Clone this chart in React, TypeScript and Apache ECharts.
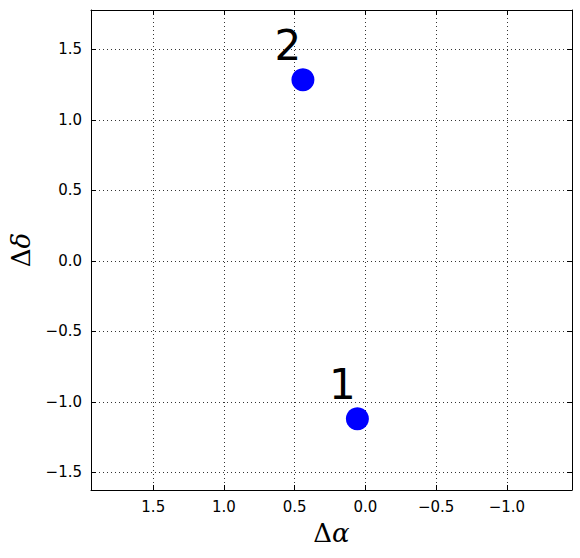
import React, { useEffect, useRef } from "react";
import * as echarts from "echarts";

const pointLabels = ["1", "2"];
const deltaAlpha = [0.057, 0.442];
const deltaDelta = [-1.12, 1.285];

const xRange = [-1.46, 1.94];
const yRange = [-1.625, 1.78];

const fmt = (v: number) => v.toFixed(1).replace("-", "\u2212");

export default function App() {
  const ref = useRef<HTMLDivElement>(null);
  useEffect(() => {
    document.body.style.margin = "0";
    document.body.style.overflow = "hidden";
    if (!ref.current) return;
    const chart = echarts.init(ref.current, null, { renderer: "svg" });
    const tickStyle = { show: true, inside: true, length: 5, lineStyle: { color: "#000", width: 1 } };
    const axisLine = { show: true, onZero: false, lineStyle: { color: "#000", width: 1 } };
    const labelStyle = {
      color: "#000",
      fontSize: 15,
      fontFamily: "DejaVu Sans",
      formatter: (v: number) => fmt(v),
      showMinLabel: false,
      showMaxLabel: false,
    };
    const nameRich = {
      a: { fontFamily: "DejaVu Serif", fontSize: 26, color: "#000" },
      b: { fontFamily: "DejaVu Serif", fontStyle: "italic", fontSize: 26, color: "#000" },
    };
    const data = pointLabels.map((n, i) => ({ name: n, value: [deltaAlpha[i], deltaDelta[i]] }));
    chart.setOption({
      animation: false,
      backgroundColor: "#fff",
      grid: { left: 91, right: 8, top: 10, bottom: 68, containLabel: false, outerBoundsMode: "none" },
      xAxis: [
        {
          type: "value",
          min: xRange[0],
          max: xRange[1],
          inverse: true,
          splitNumber: 6,
          axisLine,
          axisTick: tickStyle,
          axisLabel: { ...labelStyle, margin: 9 },
          splitLine: { show: true, lineStyle: { color: "#000", type: [1, 3], width: 0.8 } },
          name: "{a|Δ}{b|α}",
          nameLocation: "middle",
          nameGap: 30,
          nameTextStyle: { rich: nameRich },
        },
        {
          type: "value",
          position: "top",
          min: xRange[0],
          max: xRange[1],
          inverse: true,
          splitNumber: 6,
          axisLine,
          axisTick: tickStyle,
          axisLabel: { show: false },
          splitLine: { show: false },
        },
      ],
      yAxis: [
        {
          type: "value",
          min: yRange[0],
          max: yRange[1],
          splitNumber: 6,
          axisLine,
          axisTick: tickStyle,
          axisLabel: { ...labelStyle, margin: 9 },
          splitLine: { show: true, lineStyle: { color: "#000", type: [1, 3], width: 0.8 } },
          name: "{a|Δ}{b|δ}",
          nameLocation: "middle",
          nameGap: 57,
          nameTextStyle: { rich: nameRich },
        },
        {
          type: "value",
          position: "right",
          min: yRange[0],
          max: yRange[1],
          splitNumber: 6,
          axisLine,
          axisTick: tickStyle,
          axisLabel: { show: false },
          splitLine: { show: false },
        },
      ],
      series: [
        {
          type: "scatter",
          data,
          symbol: "circle",
          symbolSize: 23,
          itemStyle: { color: "#0000ff", opacity: 1 },
          label: {
            show: true,
            position: "inside",
            formatter: (p: any) => p.name,
            offset: [-15, -34],
            fontSize: 42,
            fontFamily: "DejaVu Sans",
            color: "#000",
          },
        },
      ],
    });
    return () => chart.dispose();
  }, []);
  return <div ref={ref} style={{ width: 580, height: 558 }} />;
}
